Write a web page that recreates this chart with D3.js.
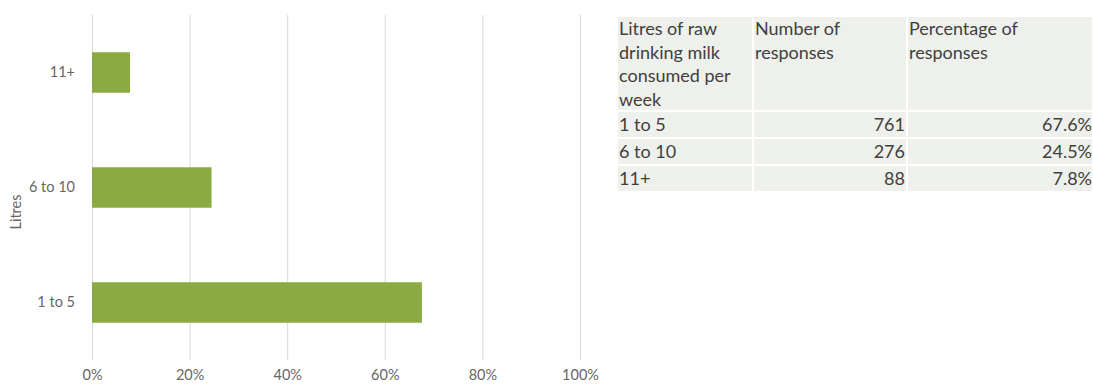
<!DOCTYPE html>
<html>
<head>
<meta charset="utf-8">
<script src="https://cdn.jsdelivr.net/npm/d3@7"></script>
<style>
  html, body { margin: 0; padding: 0; background: #fff; }
  svg { display: block; }
  text { font-family: Lato, "Open Sans", sans-serif; }
</style>
</head>
<body>
<svg id="chart" width="1093" height="386"></svg>
<script>
// Weekly raw drinking milk consumption
const categories = ["1 to 5", "6 to 10", "11+"];
const responses = [761, 276, 88];
const shares = [0.676, 0.245, 0.078];
const xTicks = [0, 0.2, 0.4, 0.6, 0.8, 1];
const tableHeader = [
  ["Litres of raw", "drinking milk", "consumed per", "week"],
  ["Number of", "responses"],
  ["Percentage of", "responses"]
];

const svg = d3.select("#chart");
const axisColor = "#666666";
const axisFs = "14.5px";

// ---- bar chart ----
const x = d3.scaleLinear().domain([0, 1]).range([92, 580]);
const y = d3.scaleBand()
  .domain(categories.slice().reverse())
  .range([15, 360])
  .paddingInner(0.648)
  .paddingOuter(0.324);

const grid = svg.append("g");
grid.selectAll("line").data(xTicks).join("line")
  .attr("x1", d => x(d) + 0.5).attr("x2", d => x(d) + 0.5)
  .attr("y1", 15).attr("y2", 360)
  .attr("stroke", "#d9d9d9").attr("stroke-width", 1);

const xAxis = d3.axisBottom(x).tickValues(xTicks).tickFormat(d3.format(".0%")).tickSize(0);
svg.append("g")
  .attr("transform", "translate(0,367)")
  .call(xAxis)
  .call(g => g.select(".domain").remove())
  .call(g => g.selectAll("text")
    .attr("fill", axisColor).attr("font-size", axisFs)
    .attr("font-family", "Lato, sans-serif"));

const yAxis = d3.axisLeft(y).tickSize(0).tickPadding(17);
svg.append("g")
  .attr("transform", "translate(92,0)")
  .call(yAxis)
  .call(g => g.select(".domain").remove())
  .call(g => g.selectAll("text")
    .attr("fill", axisColor).attr("font-size", axisFs)
    .attr("font-family", "Lato, sans-serif"));

svg.append("text")
  .attr("transform", "translate(21,212) rotate(-90)")
  .attr("text-anchor", "middle")
  .attr("fill", axisColor).attr("font-size", axisFs)
  .text("Litres");

const rows = categories.map((c, i) => ({ cat: c, n: responses[i], p: shares[i] }));

svg.append("g").selectAll("rect").data(rows).join("rect")
  .attr("x", x(0))
  .attr("y", d => y(d.cat))
  .attr("width", d => x(d.p) - x(0))
  .attr("height", y.bandwidth())
  .attr("fill", "#8baa43");

// ---- data table ----
const cols = [
  { x0: 618, x1: 752 },
  { x0: 754, x1: 906 },
  { x0: 908, x1: 1092 }
];
const headTop = 17, headBottom = 110, rowH = 27, gap = 2;
const tbl = svg.append("g");
const textColor = "#404040";
const fs = "18px";

tbl.selectAll("rect.head").data(cols).join("rect")
  .attr("class", "head")
  .attr("x", d => d.x0).attr("y", headTop)
  .attr("width", d => d.x1 - d.x0).attr("height", headBottom - headTop)
  .attr("fill", "#eef0eb");

tableHeader.forEach((lines, ci) => {
  const t = tbl.append("text")
    .attr("x", cols[ci].x0 + 1)
    .attr("y", 35)
    .attr("fill", textColor).attr("font-size", fs);
  lines.forEach((ln, li) => {
    t.append("tspan").attr("x", cols[ci].x0 + 1).attr("dy", li === 0 ? 0 : 23.5).text(ln);
  });
});

rows.forEach((r, ri) => {
  const top = headBottom + gap + ri * rowH;
  cols.forEach(c => {
    tbl.append("rect")
      .attr("x", c.x0).attr("y", top)
      .attr("width", c.x1 - c.x0).attr("height", rowH - gap)
      .attr("fill", "#eef0eb");
  });
  const base = top + 19;
  tbl.append("text").attr("x", cols[0].x0 + 1).attr("y", base)
    .attr("fill", textColor).attr("font-size", fs).text(r.cat);
  tbl.append("text").attr("x", cols[1].x1 - 1).attr("y", base)
    .attr("text-anchor", "end")
    .attr("fill", textColor).attr("font-size", fs).text(r.n);
  tbl.append("text").attr("x", cols[2].x1).attr("y", base)
    .attr("text-anchor", "end")
    .attr("fill", textColor).attr("font-size", fs).text(d3.format(".1%")(r.p));
});
</script>
</body>
</html>
